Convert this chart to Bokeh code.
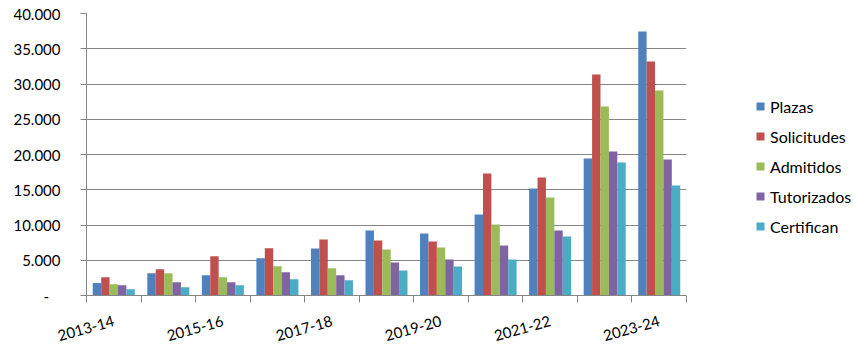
from bokeh.plotting import figure
from bokeh.layouts import row
from bokeh.models import (ColumnDataSource, Range1d, FixedTicker, Legend, LegendItem)
from bokeh.transform import dodge
from bokeh.embed import file_html
from bokeh.resources import INLINE

seasons = ["2013-14", "2014-15", "2015-16", "2016-17", "2017-18", "2018-19",
           "2019-20", "2020-21", "2021-22", "2022-23", "2023-24"]
plazas      = [1780, 3160, 2880, 5280, 6680, 9220, 8790, 11490, 15180, 19430, 37450]
solicitudes = [2590, 3720, 5570, 6700, 7960, 7800, 7660, 17300, 16740, 31350, 33190]
admitidos   = [1600, 3160, 2590, 4150, 3850, 6520, 6810, 10070, 13900, 26810, 29080]
tutorizados = [1460, 1880, 1880, 3300, 2860, 4680, 5100, 7090, 9220, 20430, 19290]
certifican  = [900, 1180, 1460, 2310, 2150, 3550, 4110, 5100, 8370, 18860, 15600]
series_names = ["Plazas", "Solicitudes", "Admitidos", "Tutorizados", "Certifican"]
y_ticks = [0, 5000, 10000, 15000, 20000, 25000, 30000, 35000, 40000]

colors = ["#4F81BD", "#C0504D", "#9BBB59", "#8064A2", "#4BACC6"]
FONT = "Lato"
GRID = "#868686"

idx = list(range(len(seasons)))
source = ColumnDataSource(dict(idx=idx, Plazas=plazas, Solicitudes=solicitudes,
                               Admitidos=admitidos, Tutorizados=tutorizados,
                               Certifican=certifican))

p = figure(width=690, height=353, output_backend="svg", toolbar_location=None,
           x_range=Range1d(-0.5, len(seasons) - 0.5), y_range=Range1d(0, 40000),
           min_border_left=86, min_border_right=4, min_border_top=13,
           min_border_bottom=58)
p.outline_line_color = None
p.background_fill_color = "white"
p.border_fill_color = "white"

bw = 0.154
offsets = [-2 * bw, -bw, 0, bw, 2 * bw]
for name, off, c in zip(series_names, offsets, colors):
    p.vbar(x=dodge("idx", off, range=p.x_range), top=name, width=bw,
           source=source, fill_color=c, line_color=None)

# x axis
p.xgrid.visible = False
p.xaxis.ticker = FixedTicker(ticks=idx[::2],
                             minor_ticks=[i - 0.5 for i in range(len(seasons) + 1)])
p.xaxis.major_label_overrides = {i: seasons[i] for i in idx[::2]}
p.xaxis.major_label_orientation = 0.27
p.xaxis.major_tick_out = 0
p.xaxis.major_tick_in = 0
p.xaxis.minor_tick_out = 7
p.xaxis.minor_tick_in = 0
p.xaxis.minor_tick_line_color = GRID
p.xaxis.axis_line_color = GRID
p.xaxis.major_label_text_font = FONT
p.xaxis.major_label_text_font_size = "15px"
p.xaxis.major_label_text_color = "black"
p.xaxis.major_label_standoff = 18

# y axis
p.yaxis.ticker = FixedTicker(ticks=y_ticks, minor_ticks=[])
p.yaxis.major_label_overrides = {
    t: ("-\u00a0\u00a0\u00a0" if t == 0 else f"{t:,}".replace(",", ".")) for t in y_ticks}
p.yaxis.axis_line_color = GRID
p.yaxis.major_tick_line_color = GRID
p.yaxis.major_tick_out = 6
p.yaxis.major_tick_in = 0
p.yaxis.major_label_text_font = FONT
p.yaxis.major_label_text_font_size = "15px"
p.yaxis.major_label_text_color = "black"
p.yaxis.major_label_standoff = 20
p.ygrid.grid_line_color = GRID
p.ygrid.grid_line_width = 1

# legend panel (its keys reuse the series styles; marks sit outside its view)
lg = figure(width=163, height=353, output_backend="svg", toolbar_location=None,
            x_range=Range1d(0, 1), y_range=Range1d(0, 1),
            min_border_left=0, min_border_right=0, min_border_top=0,
            min_border_bottom=0)
lg.axis.visible = False
lg.grid.visible = False
lg.outline_line_color = None
lg.border_fill_color = "white"
items = []
for name, c in zip(series_names, colors):
    r = lg.scatter(x=[-10], y=[-10], marker="square", size=8, fill_color=c,
                   line_color=None)
    items.append(LegendItem(label=name, renderers=[r]))

legend = Legend(items=items, location=(60, 59), orientation="vertical",
                border_line_color=None, background_fill_alpha=0,
                glyph_width=20, glyph_height=20, label_height=20, spacing=10,
                label_standoff=0, padding=0, margin=0,
                label_text_font=FONT, label_text_font_size="16px",
                label_text_color="black")
lg.add_layout(legend, "center")

layout = row(p, lg)
open("out.html", "w").write(file_html(layout, INLINE))
